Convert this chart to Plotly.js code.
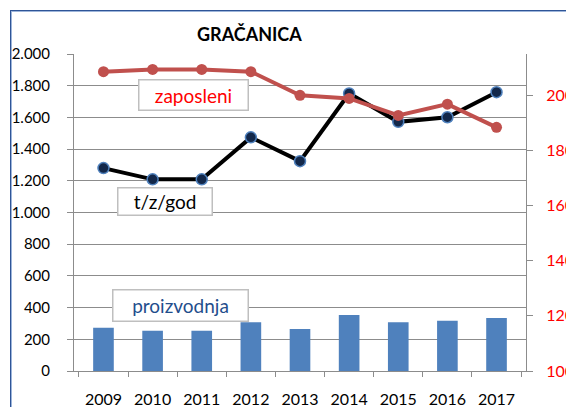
<!DOCTYPE html>
<html>
<head>
<meta charset="utf-8">
<script src="https://cdn.plot.ly/plotly-3.0.1.min.js"></script>
<style>
  html, body { margin: 0; padding: 0; background: #fff; overflow: hidden; }
  #wrap { position: relative; width: 566px; height: 407px; }
  #chart { position: absolute; left: 0; top: 0; width: 566px; height: 407px; }
  #frame { position: absolute; left: 10px; top: 10px; width: 620px; height: 460px;
           border-left: 1px solid #2F5597; border-top: 1px solid #2F5597;
           box-shadow: inset 1px 1px 0 #9DB5DA; pointer-events: none; }
</style>
</head>
<body>
<div id="wrap">
  <div id="chart"></div>
  <div id="frame"></div>
</div>
<script>
const years = ['2009', '2010', '2011', '2012', '2013', '2014', '2015', '2016', '2017'];
const proizvodnja = [273, 254, 254, 307, 265, 353, 307, 317, 334];
const tzGod = [1280, 1209, 1209, 1474, 1324, 1751, 1572, 1601, 1759];
const zaposleni = [2086, 2094, 2094, 2086, 2000, 1989, 1927, 1968, 1884];
const leftTicks = [0, 200, 400, 600, 800, 1000, 1200, 1400, 1600, 1800, 2000];
const rightTicks = [1000, 1200, 1400, 1600, 1800, 2000];
const chartTitle = 'GRAČANICA';
const labels = { zaposleni: 'zaposleni', tzGod: 't/z/god', proizvodnja: 'proizvodnja' };

const W = 566, H = 407;
const M = { l: 74, r: 40, t: 54, b: 36 };
const PW = W - M.l - M.r, PH = H - M.t - M.b;
const px = x => (x - M.l) / PW;
const py = y => (H - M.b - y) / PH;

const FONT = 'Lato, "Open Sans", sans-serif';
const GRID = '#8C8C8C';

const traces = [
  { type: 'bar', x: years, y: proizvodnja, name: labels.proizvodnja,
    marker: { color: '#4F81BD' }, width: 0.42, yaxis: 'y', hoverinfo: 'x+y' },
  { type: 'scatter', mode: 'lines+markers', x: years, y: tzGod, name: labels.tzGod,
    line: { color: '#000000', width: 4 },
    marker: { size: 11, color: '#13284A', line: { color: '#4F81BD', width: 1.5 } }, yaxis: 'y' },
  { type: 'scatter', mode: 'lines+markers', x: years, y: zaposleni, name: labels.zaposleni,
    line: { color: '#C0504D', width: 4 },
    marker: { size: 11, color: '#C0504D' }, yaxis: 'y2' }
];

const boxAnn = (text, cx, cy, w, h, color) => ({
  text: text, xref: 'paper', yref: 'paper', x: px(cx), y: py(cy),
  xanchor: 'center', yanchor: 'middle', showarrow: false,
  width: w, height: h, bgcolor: '#FFFFFF', bordercolor: '#BFBFBF', borderwidth: 1.5, borderpad: 0,
  font: { family: FONT, size: 19, color: color }
});

const layout = {
  width: W, height: H,
  margin: M,
  paper_bgcolor: '#FFFFFF', plot_bgcolor: '#FFFFFF',
  separators: ',.',
  showlegend: false,
  bargap: 0.58,
  font: { family: FONT, size: 15, color: '#000000' },
  xaxis: {
    type: 'category', showgrid: false, showline: true, linecolor: GRID, linewidth: 1,
    ticks: 'outside', tickson: 'boundaries', ticklen: 5, tickcolor: GRID,
    tickfont: { family: FONT, size: 16, color: '#000' }, ticklabelstandoff: 14
  },
  yaxis: {
    range: [0, 2000], tickvals: leftTicks, tickformat: ',d',
    showgrid: true, gridcolor: GRID, gridwidth: 1, zeroline: false,
    showline: true, linecolor: GRID, ticks: 'outside', ticklen: 6, tickcolor: GRID,
    tickfont: { family: FONT, size: 15, color: '#000' }, ticklabelstandoff: 14
  },
  yaxis2: {
    overlaying: 'y', side: 'right', range: [1000, 2150], tickvals: rightTicks, tickformat: 'd',
    showgrid: false, zeroline: false, showline: true, linecolor: GRID,
    ticks: 'outside', ticklen: 6, tickcolor: GRID,
    tickfont: { family: FONT, size: 16, color: '#FF0000' }, ticklabelstandoff: 10
  },
  shapes: [
    { type: 'rect', xref: 'paper', yref: 'paper', x0: px(182), x1: px(318), y0: py(57), y1: py(16),
      fillcolor: '#FFFFFF', line: { width: 0 }, layer: 'above' }
  ],
  annotations: [
    { text: '<b>' + chartTitle + '</b>', xref: 'paper', yref: 'paper', x: px(249.5), y: py(34),
      xanchor: 'center', yanchor: 'middle', showarrow: false,
      font: { family: FONT, size: 18, color: '#000' } },
    boxAnn(labels.zaposleni, 193, 94.5, 108, 29, '#FF0000'),
    boxAnn(labels.tzGod, 164.5, 201, 93, 26, '#000000'),
    boxAnn(labels.proizvodnja, 180, 305, 134, 30, '#1F4E8C')
  ]
};

Plotly.newPlot('chart', traces, layout, { displayModeBar: false, staticPlot: true });
</script>
</body>
</html>
